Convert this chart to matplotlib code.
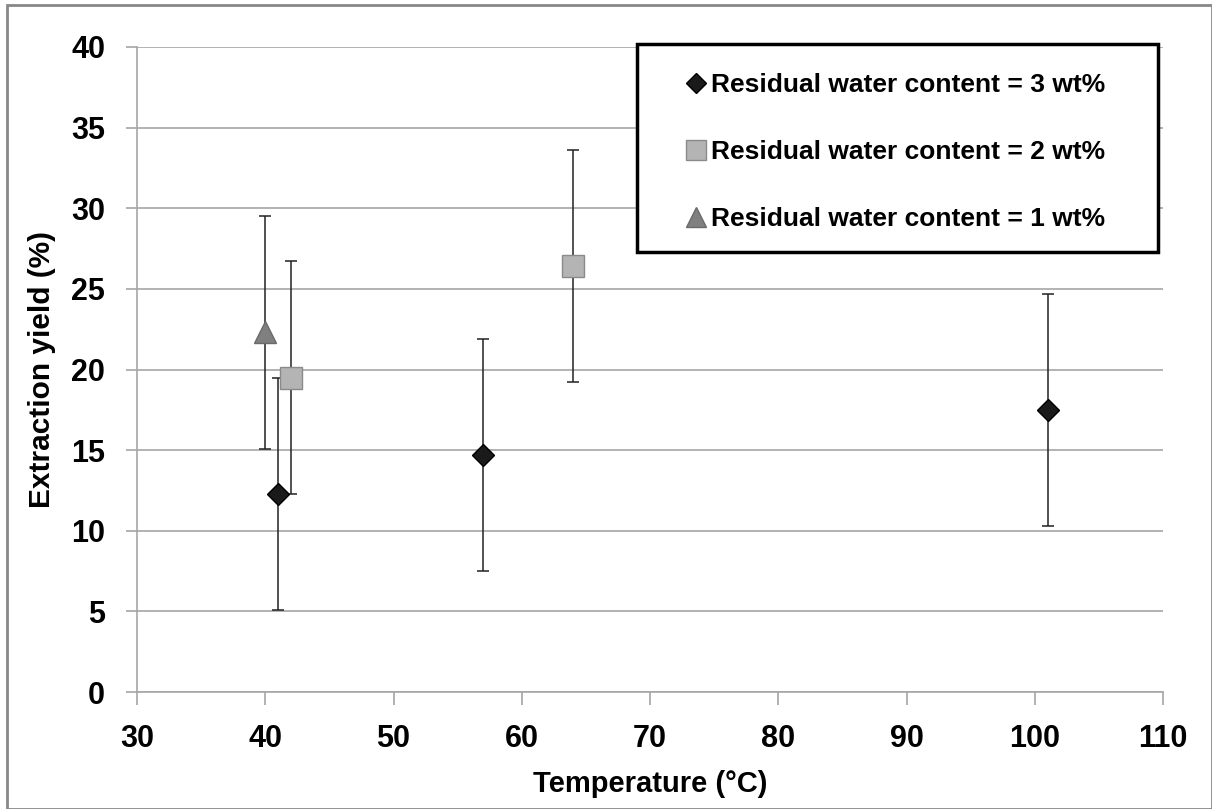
import matplotlib.pyplot as plt
from matplotlib.patches import Rectangle

plt.rcParams['font.family'] = ['Liberation Sans', 'DejaVu Sans']
plt.rcParams['font.weight'] = 'bold'

# residual water content 3 wt%
t3 = [41, 57, 101]
y3 = [12.3, 14.7, 17.5]
e3 = [7.2, 7.2, 7.2]
# residual water content 2 wt%
t2 = [42, 64]
y2 = [19.5, 26.4]
e2 = [7.2, 7.2]
# residual water content 1 wt%
t1 = [40]
y1 = [22.3]
e1 = [7.2]

labels = ['Residual water content = 3 wt%',
          'Residual water content = 2 wt%',
          'Residual water content = 1 wt%']

W, H = 1212, 809
fig = plt.figure(figsize=(W / 100, H / 100), dpi=100)
ax = fig.add_axes([137 / W, 1 - 692 / H, (1163 - 137) / W, (692 - 47) / H])

# outer chart border
fig.patches.append(Rectangle((7 / W, 0), 1 - 7 / W, 1 - 5 / H,
                             transform=fig.transFigure, fill=False,
                             edgecolor='#888888', linewidth=2))

err_kw = dict(ecolor='#222222', elinewidth=1.1, capsize=4.5, capthick=1.1, linestyle='none')
ax.errorbar(t1, y1, yerr=e1, marker='^', markersize=16, color='#808080',
            markeredgecolor='#6a6a6a', label=labels[2], zorder=3, **err_kw)
ax.errorbar(t2, y2, yerr=e2, marker='s', markersize=16, color='#b4b4b4',
            markeredgecolor='#8a8a8a', label=labels[1], zorder=3, **err_kw)
ax.errorbar(t3, y3, yerr=e3, marker='D', markersize=11, color='#1a1a1a',
            markeredgecolor='#000000', label=labels[0], zorder=3, **err_kw)

ax.set_xlim(30, 110)
ax.set_ylim(0, 40)
ax.set_xticks(range(30, 111, 10))
ax.set_yticks(range(0, 41, 5))
ax.yaxis.grid(True, color='#a6a6a6', linewidth=1.2)
ax.set_axisbelow(True)
for s in ['top', 'right']:
    ax.spines[s].set_visible(False)
for s in ['left', 'bottom']:
    ax.spines[s].set_color('#a6a6a6')
    ax.spines[s].set_linewidth(1.2)
ax.tick_params(axis='both', direction='out', width=1.2, color='#a6a6a6', labelsize=22)
ax.tick_params(axis='x', length=9, pad=14)
ax.tick_params(axis='y', length=8, pad=15)
for lbl in ax.get_xticklabels() + ax.get_yticklabels():
    lbl.set_fontweight('bold')

ax.set_xlabel('Temperature (°C)', fontsize=21, fontweight='bold')
ax.set_ylabel('Extraction yield (%)', fontsize=21.5, fontweight='bold')
ax.xaxis.set_label_coords(0.5, (692 - 770) / 645)
ax.yaxis.set_label_coords((56 - 137) / 1026, 0.5)

# legend frame
ax.add_patch(Rectangle((637 / W, 1 - 252 / H), (1158 - 637) / W, (252 - 44) / H,
                       transform=fig.transFigure, facecolor='white', clip_on=False,
                       edgecolor='black', linewidth=2.5, zorder=4))

h, l = ax.get_legend_handles_labels()
order = [2, 1, 0]
leg = ax.legend([h[i][0] for i in order], [l[i] for i in order],
                loc='upper left', bbox_to_anchor=(685 / W, 1 - 73 / H),
                bbox_transform=fig.transFigure, frameon=False,
                labelspacing=1.63, borderpad=0, borderaxespad=0,
                handletextpad=0.17, handlelength=0.8, markerscale=0.9,
                prop={'weight': 'bold', 'size': 19})
leg.set_zorder(5)

fig.savefig('out.png', dpi=100)
